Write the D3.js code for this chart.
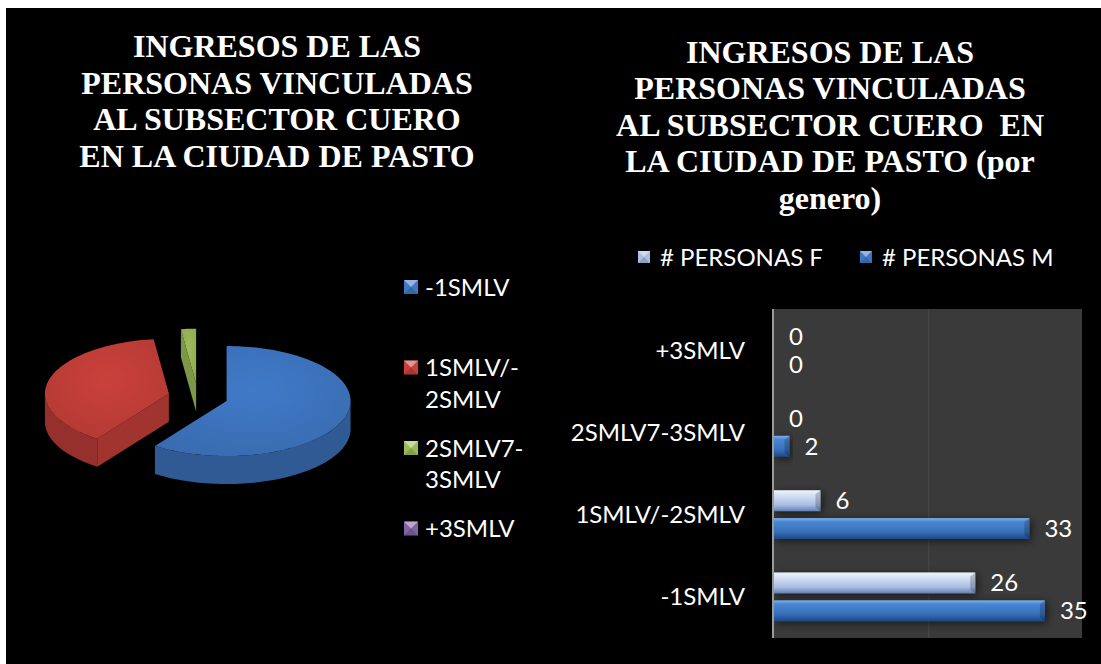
<!DOCTYPE html>
<html>
<head>
<meta charset="utf-8">
<script src="https://cdn.jsdelivr.net/npm/d3@7"></script>
<style>
  body { margin: 0; background: #ffffff; }
  svg { display: block; }
  .title { font-family: "Liberation Serif", Tinos, "Times New Roman", serif; font-weight: bold; font-size: 32px; fill: #ffffff; white-space: pre; }
  .lbl { font-family: Lato, "Open Sans", sans-serif; font-size: 24px; fill: #ffffff; }
</style>
</head>
<body>
<svg id="chart" width="1101" height="664"></svg>
<script>
// data
const categories = ['-1SMLV', '1SMLV/-2SMLV', '2SMLV7-3SMLV', '+3SMLV'];
const personasF = [26, 6, 0, 0];
const personasM = [35, 33, 2, 0];
const seriesNames = ['# PERSONAS F', '# PERSONAS M'];
const pieColors = ['#3f78c4', '#c7403a', '#9bbb59', '#8064a2'];
const titleLeft = ['INGRESOS DE LAS', 'PERSONAS VINCULADAS', 'AL SUBSECTOR CUERO', 'EN LA CIUDAD DE PASTO'];
const titleRight = ['INGRESOS DE LAS', 'PERSONAS VINCULADAS', 'AL SUBSECTOR CUERO  EN', 'LA CIUDAD DE PASTO (por', 'genero)'];

// pie values = both genders together
const pieValues = categories.map((c, i) => personasF[i] + personasM[i]);

const svg = d3.select('#chart');
const defs = svg.append('defs');

// black slide background
svg.append('rect')
    .attr('x', 6).attr('y', 8)
    .attr('width', 1101 - 6).attr('height', 664 - 8)
    .attr('fill', '#000000');

// titles
function drawTitle(lines, cx, y0, step) {
    svg.append('g').selectAll('text')
        .data(lines)
        .enter()
        .append('text')
        .attr('class', 'title')
        .attr('x', cx)
        .attr('y', (d, i) => y0 + i * step)
        .attr('text-anchor', 'middle')
        .text(d => d);
}
drawTitle(titleLeft, 277, 57, 36.7);
drawTitle(titleRight, 830, 63, 36.4);

// legend marker with a little bevel
function marker(g, x, y, s, color) {
    g.append('rect').attr('x', x).attr('y', y).attr('width', s).attr('height', s)
        .attr('fill', color);
    g.append('polygon')
        .attr('points', [[x, y], [x + s, y], [x + s / 2, y + s / 2]].map(p => p.join(',')).join(' '))
        .attr('fill', '#ffffff').attr('fill-opacity', 0.45);
    g.append('polygon')
        .attr('points', [[x, y + s], [x + s, y + s], [x + s / 2, y + s / 2]].map(p => p.join(',')).join(' '))
        .attr('fill', '#000000').attr('fill-opacity', 0.15);
}

// ---------- 3D exploded pie ----------
const pie = d3.pie().sort(null).value(d => d);
const arcs = pie(pieValues);

const cx = 198, cy = 397, rx = 124, ry = 55, depth = 28, explode = 30;
const ellipse = (a, ox, oy) => [ox + rx * Math.sin(a), oy - ry * Math.cos(a)];

function arcPath(a0, a1, ox, oy, dy) {
    let n = Math.max(2, Math.ceil((a1 - a0) / 0.03));
    return d3.range(n + 1).map(k => {
        let p = ellipse(a0 + (a1 - a0) * k / n, ox, oy);
        return [p[0], p[1] + dy];
    });
}

const shade = (c, k) => d3.color(c).darker(k).formatHex();

arcs.forEach((d, i) => {
    let g = defs.append('radialGradient')
        .attr('id', 'pieTop' + i)
        .attr('cx', '50%').attr('cy', '40%').attr('r', '75%');
    g.append('stop').attr('offset', '0%').attr('stop-color', d3.color(pieColors[i]).brighter(0.05).formatHex());
    g.append('stop').attr('offset', '100%').attr('stop-color', shade(pieColors[i], 0.35));
});

const pieG = svg.append('g');
const slices = arcs
    .filter(d => d.endAngle - d.startAngle > 0)
    .map(d => {
        let mid = (d.startAngle + d.endAngle) / 2;
        return {
            d: d,
            ox: cx + explode * Math.sin(mid),
            oy: cy - explode * Math.cos(mid) * ry / rx
        };
    })
    .sort((a, b) => a.oy - b.oy);

slices.forEach(s => {
    let a0 = s.d.startAngle, a1 = s.d.endAngle;
    let col = pieColors[s.d.index];
    let line = d3.line();

    // cut walls that face the viewer
    [[a0, a0 - Math.PI / 2], [a1, a1 + Math.PI / 2]].forEach(([a, nrm]) => {
        if (Math.cos(nrm) < -0.01) {
            let p = ellipse(a, s.ox, s.oy);
            pieG.append('path')
                .attr('d', line([[s.ox, s.oy], p, [p[0], p[1] + depth], [s.ox, s.oy + depth]]) + 'Z')
                .attr('fill', shade(col, 0.6));
        }
    });

    // outer side, front half only
    let f0 = Math.max(a0, Math.PI / 2), f1 = Math.min(a1, 3 * Math.PI / 2);
    if (f1 > f0) {
        let top = arcPath(f0, f1, s.ox, s.oy, 0);
        let bot = arcPath(f0, f1, s.ox, s.oy, depth).reverse();
        pieG.append('path')
            .attr('d', line(top.concat(bot)) + 'Z')
            .attr('fill', shade(col, 0.8));
    }

    // top face
    let topPts = [[s.ox, s.oy]].concat(arcPath(a0, a1, s.ox, s.oy, 0));
    pieG.append('path')
        .attr('d', line(topPts) + 'Z')
        .attr('fill', 'url(#pieTop' + s.d.index + ')');
});

// pie legend
const wrapLabel = (t) => {
    let k = t.indexOf('-', 1);
    return (t.length > 7 && k > 0) ? [t.slice(0, k + 1), t.slice(k + 1)] : [t];
};
const pieLeg = svg.append('g');
categories.forEach((c, i) => {
    let yc = 287 + i * 80.5;
    marker(pieLeg, 404, yc - 7, 14, pieColors[i]);
    wrapLabel(c).forEach((ln, j) => {
        pieLeg.append('text')
            .attr('class', 'lbl')
            .attr('x', 425)
            .attr('y', yc + j * 31.5 + 8.5)
            .text(ln);
    });
});

// ---------- horizontal bar chart ----------
const plot = { left: 772, right: 1082, top: 309, bottom: 638 };
const x0 = 774;

const x = d3.scaleLinear().domain([0, 40]).range([x0, x0 + 40 * 7.74]);
const y = d3.scaleBand()
    .domain(categories.slice().reverse())
    .range([plot.top, plot.bottom]);
const ySub = d3.scaleBand()
    .domain(seriesNames)
    .range([0, y.bandwidth()])
    .paddingInner(0.25)
    .paddingOuter(0.6);

// bar gradients
const gM = defs.append('linearGradient').attr('id', 'barM')
    .attr('x1', 0).attr('y1', 0).attr('x2', 0).attr('y2', 1);
[['0%', '#7fb0ea'], ['18%', '#4a86d3'], ['65%', '#3870bb'], ['100%', '#1c4884']]
    .forEach(s => gM.append('stop').attr('offset', s[0]).attr('stop-color', s[1]));
const gF = defs.append('linearGradient').attr('id', 'barF')
    .attr('x1', 0).attr('y1', 0).attr('x2', 0).attr('y2', 1);
[['0%', '#eef3fb'], ['30%', '#d0dcf1'], ['70%', '#a9bee3'], ['100%', '#6580b2']]
    .forEach(s => gF.append('stop').attr('offset', s[0]).attr('stop-color', s[1]));

const shadow = defs.append('filter').attr('id', 'shadow')
    .attr('x', '-20%').attr('y', '-60%').attr('width', '140%').attr('height', '220%');
shadow.append('feDropShadow')
    .attr('dx', 2).attr('dy', 2).attr('stdDeviation', 4)
    .attr('flood-color', '#000').attr('flood-opacity', 0.6);

svg.append('rect')
    .attr('x', plot.left).attr('y', plot.top)
    .attr('width', plot.right - plot.left).attr('height', plot.bottom - plot.top)
    .attr('fill', '#3a3a3a');

// gridline (faint)
svg.append('line')
    .attr('x1', x(20)).attr('x2', x(20))
    .attr('y1', plot.top).attr('y2', plot.bottom)
    .attr('stroke', '#4a4a4a').attr('stroke-width', 1);

const rows = categories.map((c, i) => ({ cat: c, vals: [personasF[i], personasM[i]] }));

const bars = svg.append('g');
rows.forEach(r => {
    r.vals.forEach((v, k) => {
        let s = seriesNames[k];
        let by = y(r.cat) + ySub(s);
        let bh = ySub.bandwidth();
        if (v > 0) {
            bars.append('rect')
                .attr('x', x(0)).attr('y', by)
                .attr('width', x(v) - x(0)).attr('height', bh)
                .attr('fill', k === 0 ? 'url(#barF)' : 'url(#barM)')
                .attr('filter', 'url(#shadow)');
            // bevelled end
            let xe = x(v);
            bars.append('polygon')
                .attr('points', [[xe, by], [xe, by + bh], [xe - 5, by + bh - 4], [xe - 5, by + 4]].map(p => p.join(',')).join(' '))
                .attr('fill', '#000').attr('fill-opacity', 0.2);
        }
        bars.append('text')
            .attr('class', 'lbl')
            .attr('x', x(v) + 15)
            .attr('y', by + bh / 2 + 8.5)
            .text(v);
    });
});

// axis line
svg.append('line')
    .attr('x1', x0 - 1).attr('x2', x0 - 1)
    .attr('y1', plot.top).attr('y2', plot.bottom)
    .attr('stroke', '#9a9a9a').attr('stroke-width', 2);

// category labels
svg.append('g').selectAll('text')
    .data(categories)
    .enter()
    .append('text')
    .attr('class', 'lbl')
    .attr('x', 745)
    .attr('y', d => y(d) + y.bandwidth() / 2 + 8.5)
    .attr('text-anchor', 'end')
    .text(d => d);

// bar legend
const barLeg = svg.append('g');
let lx = 638;
seriesNames.forEach((s, k) => {
    marker(barLeg, lx, 251, 12, k === 0 ? '#a9bee3' : '#3f78c4');
    let t = barLeg.append('text')
        .attr('class', 'lbl')
        .attr('x', lx + 22)
        .attr('y', 265.5)
        .text(s);
    lx += 22 + t.node().getComputedTextLength() + 37;
});
</script>
</body>
</html>
